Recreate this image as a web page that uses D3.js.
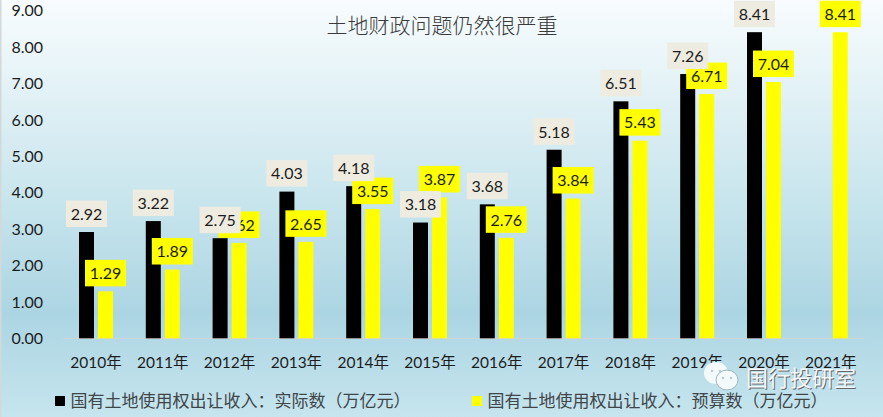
<!DOCTYPE html>
<html><head><meta charset="utf-8">
<script src="https://cdn.jsdelivr.net/npm/d3@7/dist/d3.min.js"></script>
<style>html,body{margin:0;padding:0;overflow:hidden}svg{display:block}</style></head>
<body><svg id="c" width="883" height="417"></svg>
<script>
const years=["2010年","2011年","2012年","2013年","2014年","2015年","2016年","2017年","2018年","2019年","2020年","2021年"];
const actual=[2.92,3.22,2.75,4.03,4.18,3.18,3.68,5.18,6.51,7.26,8.41,null];
const budget=[1.29,1.89,2.62,2.65,3.55,3.87,2.76,3.84,5.43,6.71,7.04,8.41];
const yTicks=[0,1,2,3,4,5,6,7,8,9];
const title="土地财政问题仍然很严重";
const legendNames=["国有土地使用权出让收入：实际数（万亿元）","国有土地使用权出让收入：预算数（万亿元）"];
const watermark="国行投研室";

const svg=d3.select("#c");
const cjk="'Noto Sans CJK SC','Liberation Sans',sans-serif";
const lat="Lato,'Noto Sans CJK SC',sans-serif";
const defs=svg.append("defs");
const g=defs.append("linearGradient").attr("id","bg").attr("x1",0).attr("y1",0).attr("x2",0).attr("y2",1);
[[0,"#f8fcfe"],[0.5,"#c6e4ec"],[0.75,"#acd5e3"],[1,"#c6e5ee"]].forEach(s=>g.append("stop").attr("offset",s[0]).attr("stop-color",s[1]));
svg.append("rect").attr("width",883).attr("height",417).attr("fill","url(#bg)");
svg.append("rect").attr("x",0).attr("y",0).attr("width",1.5).attr("height",417).attr("fill","#d4d8da");

const y=d3.scaleLinear().domain([0,9]).range([338.3,10.7]);
const x=d3.scaleBand().domain(years).range([62.6,864.2]);
const barW=15,gap=4;

svg.append("g").selectAll("text").data(yTicks).join("text")
 .attr("x",43).attr("y",d=>y(d)).attr("dy","0.36em").attr("text-anchor","end")
 .attr("font-family",lat).attr("font-size",16).attr("fill","#1c1c1c").text(d=>d3.format(".2f")(d));
svg.append("line").attr("x1",63).attr("x2",865).attr("y1",338.5).attr("y2",338.5).attr("stroke","#d0d4d6");
svg.append("g").selectAll("text").data(years).join("text")
 .attr("x",d=>x(d)+x.bandwidth()/2).attr("y",362).attr("dy","0.36em").attr("text-anchor","middle")
 .attr("font-family",lat).attr("font-size",15.5).attr("fill","#1c1c1c").text(d=>d);
const cx=(d,s)=>x(d)+x.bandwidth()/2+(s?gap/2+barW/2:-gap/2-barW/2);
[[actual,0,"#000"],[budget,1,"#ffff00"]].forEach(([vals,s,col])=>{
 svg.append("g").selectAll("rect").data(years.map((d,i)=>({d,v:vals[i]})).filter(o=>o.v!=null)).join("rect")
  .attr("x",o=>cx(o.d,s)-barW/2).attr("width",barW)
  .attr("y",o=>y(o.v)).attr("height",o=>y(0)-y(o.v)).attr("fill",col);
});
// budget labels first, actual labels on top
const labels=[];
years.forEach((d,i)=>{ if(budget[i]!=null)labels.push({d,v:budget[i],s:1}); });
years.forEach((d,i)=>{ if(actual[i]!=null)labels.push({d,v:actual[i],s:0}); });
const lg=svg.append("g").selectAll("g").data(labels).join("g");
lg.append("rect").attr("x",o=>cx(o.d,o.s)-20.5).attr("width",41).attr("height",26.5)
 .attr("y",o=>y(o.v)-31.5).attr("fill",o=>o.s?"#ffff00":"#eeece1");
lg.append("text").attr("x",o=>cx(o.d,o.s)).attr("y",o=>y(o.v)-18).attr("dy","0.36em").attr("text-anchor","middle")
 .attr("font-family",lat).attr("font-size",16).attr("fill","#1c1c1c").text(o=>d3.format(".2f")(o.v));
svg.append("text").attr("x",442).attr("y",33).attr("text-anchor","middle").attr("font-family",cjk)
 .attr("font-size",21).attr("font-weight",300).attr("fill","#3a3a3a").text(title);
[[55,legendNames[0],"#000"],[472,legendNames[1],"#ffff00"]].forEach(([lx,t,col])=>{
 svg.append("rect").attr("x",lx).attr("y",396).attr("width",10).attr("height",10).attr("fill",col);
 svg.append("text").attr("x",lx+15.5).attr("y",401).attr("dy","0.36em").attr("font-family",cjk).attr("font-size",17).attr("fill","#404548").text(t);
});
const w=svg.append("g");
[[716,373,12,11],[727,380,11,10]].forEach(([a,b,rx,ry],i)=>{
 w.append("ellipse").attr("cx",a).attr("cy",b).attr("rx",rx).attr("ry",ry).attr("fill","#f4f9fb").attr("stroke","#9db8c2").attr("stroke-width",i?1:0);
 [-4,4].forEach(dx=>w.append("circle").attr("cx",a+dx).attr("cy",b-2).attr("r",1.2).attr("fill","#b6cdd6"));
});
w.append("text").attr("x",747).attr("y",387).attr("font-family",cjk).attr("font-size",22).attr("fill","#666").text(watermark);
w.append("text").attr("x",746).attr("y",386).attr("font-family",cjk).attr("font-size",22).attr("fill","#f4f8fa").text(watermark);
</script></body></html>
